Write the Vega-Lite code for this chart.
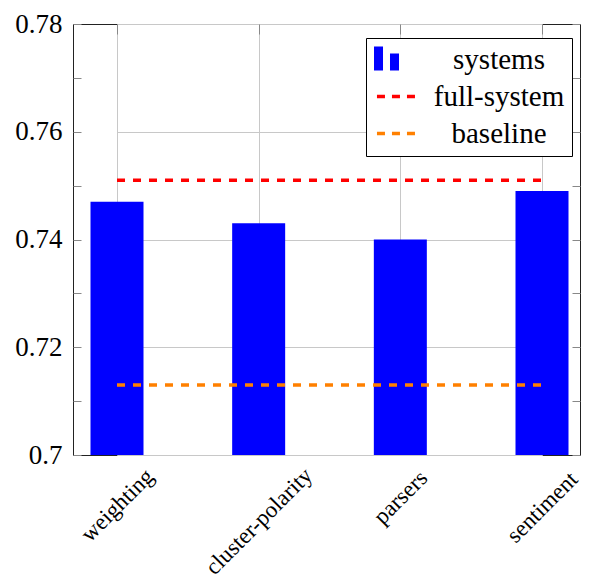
{
  "$schema": "https://vega.github.io/schema/vega-lite/v6.json",
  "autosize": "none",
  "width": 507,
  "height": 431,
  "padding": {"left": 73, "top": 24, "right": 12, "bottom": 129},
  "background": "white",
  "config": {
    "view": {"stroke": "#222", "strokeWidth": 1},
    "font": "Liberation Serif"
  },
  "datasets": {
    "bars": [
      {"category": "weighting", "value": 0.747, "series": "systems"},
      {"category": "cluster-polarity", "value": 0.743, "series": "systems"},
      {"category": "parsers", "value": 0.740, "series": "systems"},
      {"category": "sentiment", "value": 0.749, "series": "systems"}
    ],
    "lines": [
      {"category": "weighting", "value": 0.751, "series": "full-system"},
      {"category": "cluster-polarity", "value": 0.751, "series": "full-system"},
      {"category": "parsers", "value": 0.751, "series": "full-system"},
      {"category": "sentiment", "value": 0.751, "series": "full-system"},
      {"category": "weighting", "value": 0.713, "series": "baseline"},
      {"category": "cluster-polarity", "value": 0.713, "series": "baseline"},
      {"category": "parsers", "value": 0.713, "series": "baseline"},
      {"category": "sentiment", "value": 0.713, "series": "baseline"}
    ]
  },
  "encoding": {
    "x": {
      "field": "category",
      "type": "nominal",
      "sort": ["weighting", "cluster-polarity", "parsers", "sentiment"],
      "scale": {"type": "point", "range": [44, 469], "padding": 0}
    },
    "y": {
      "field": "value",
      "type": "quantitative",
      "scale": {"domain": [0.70, 0.78], "nice": false, "zero": false}
    },
    "color": {
      "field": "series",
      "type": "nominal",
      "scale": {
        "domain": ["systems", "full-system", "baseline"],
        "range": ["#0000ff", "#ff0000", "#ff8000"]
      },
      "legend": {
        "orient": "none",
        "legendX": 293,
        "legendY": 14,
        "title": null,
        "strokeColor": "#000",
        "fillColor": "#fff",
        "padding": 7,
        "rowPadding": 7,
        "labelFontSize": 29,
        "labelColor": "#000",
        "labelAlign": "center",
        "labelOffset": 97,
        "labelLimit": 300,
        "symbolLimit": 10,
        "encode": {
          "symbols": {
            "update": {
              "shape": {"signal": "datum.value === 'systems' ? 'M-1,-0.96H-0.333V0.81H-1Z M0.185,-0.44H0.852V0.81H0.185Z' : 'M-0.78,0H2.4'"},
              "size": {"value": 729},
              "fill": {"signal": "datum.value === 'systems' ? '#0000ff' : 'transparent'"},
              "stroke": {"signal": "datum.value === 'systems' ? 'transparent' : (datum.value === 'full-system' ? '#ff0000' : '#ff8000')"},
              "strokeWidth": {"signal": "datum.value === 'systems' ? 0 : 3.5"},
              "strokeDash": {"value": [8, 7]},
              "opacity": {"value": 1},
              "fillOpacity": {"value": 1},
              "strokeOpacity": {"value": 1}
            }
          }
        }
      }
    }
  },
  "layer": [
    {
      "data": {"name": "bars"},
      "mark": {"type": "bar", "width": 53, "opacity": 1, "clip": true},
      "encoding": {
        "x": {
          "field": "category",
          "type": "nominal",
          "sort": ["weighting", "cluster-polarity", "parsers", "sentiment"],
          "axis": {
            "orient": "bottom",
            "title": null,
            "grid": true,
            "gridColor": "#c8c8c8",
            "gridWidth": 1,
            "ticks": false,
            "domain": false,
            "labelAngle": -45,
            "labelAlign": "center",
            "labelBaseline": "middle",
            "labelFontSize": 23,
            "labelColor": "#000",
            "labelPadding": {
              "condition": [
                {"test": "datum.value === 'weighting'", "value": 50},
                {"test": "datum.value === 'cluster-polarity'", "value": 66},
                {"test": "datum.value === 'parsers'", "value": 42}
              ],
              "value": 52
            }
          }
        },
        "y": {
          "field": "value",
          "type": "quantitative",
          "axis": {
            "orient": "left",
            "title": null,
            "values": [0.70, 0.71, 0.72, 0.73, 0.74, 0.75, 0.76, 0.77, 0.78],
            "labelExpr": "round(datum.value*100) % 2 === 0 ? format(datum.value, '.2~f') : ''",
            "labelFontSize": 27,
            "labelColor": "#000",
            "labelPadding": 19,
            "labelFlush": false,
            "labelOverlap": false,
            "grid": true,
            "gridColor": "#c8c8c8",
            "gridWidth": 1,
            "gridOpacity": {"condition": {"test": "round(datum.value*100) % 2 === 0", "value": 1}, "value": 0},
            "tickSize": -8,
            "tickColor": "#888",
            "tickWidth": 1,
            "domain": false
          }
        }
      }
    },
    {
      "data": {"name": "lines"},
      "mark": {"type": "line", "strokeWidth": 3.5, "strokeDash": [8, 8]},
      "encoding": {
        "x": {
          "field": "category",
          "type": "nominal",
          "sort": ["weighting", "cluster-polarity", "parsers", "sentiment"],
          "axis": {
            "orient": "top",
            "title": null,
            "labels": false,
            "grid": false,
            "domain": false,
            "tickSize": -10,
            "tickColor": "#888",
            "tickWidth": 1
          }
        },
        "y": {
          "field": "value",
          "type": "quantitative",
          "axis": {
            "orient": "right",
            "title": null,
            "values": [0.70, 0.71, 0.72, 0.73, 0.74, 0.75, 0.76, 0.77, 0.78],
            "labels": false,
            "grid": false,
            "domain": false,
            "tickSize": -8,
            "tickColor": "#888",
            "tickWidth": 1
          }
        },
        "detail": {"field": "series"}
      }
    }
  ],
  "resolve": {"axis": {"x": "independent", "y": "independent"}}
}
